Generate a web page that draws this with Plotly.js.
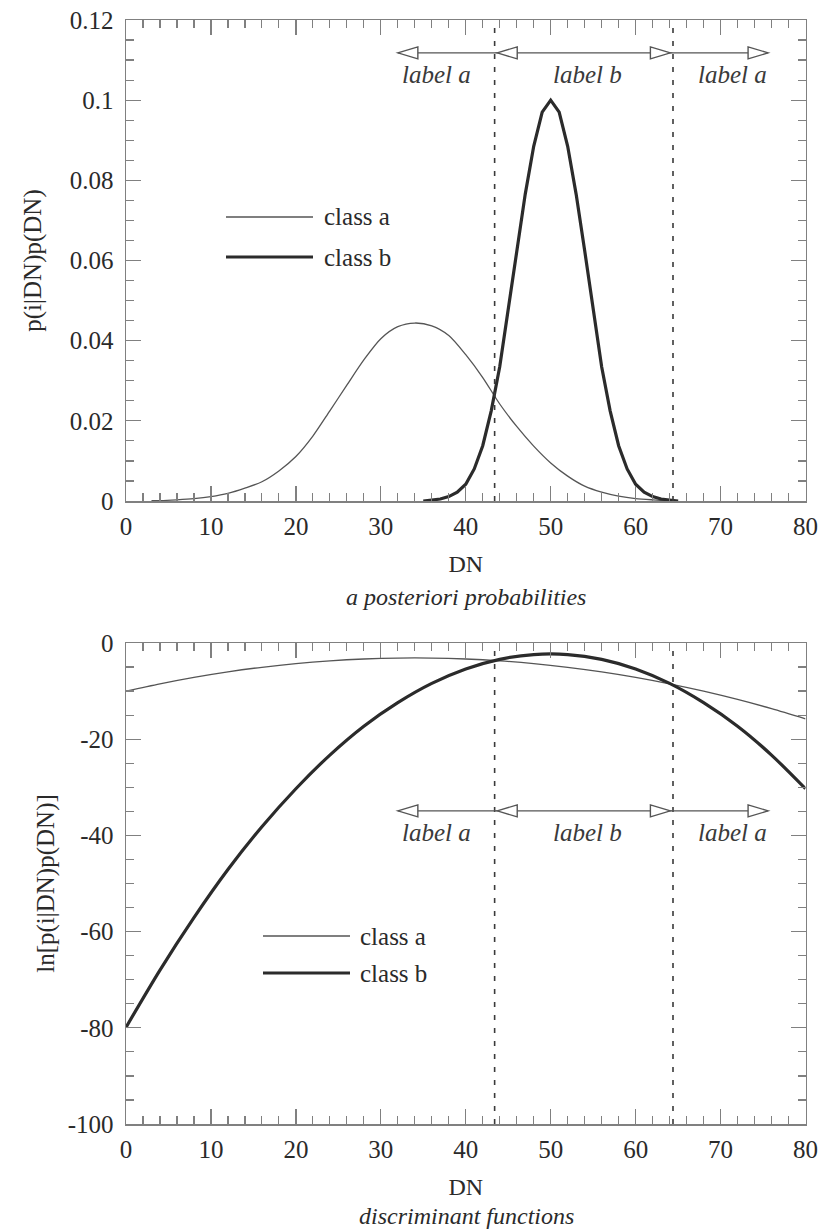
<!DOCTYPE html>
<html>
<head>
<meta charset="utf-8">
<script src="https://cdn.plot.ly/plotly-3.0.1.min.js"></script>
<style>
html,body{margin:0;padding:0;background:#ffffff;}
#chart{width:821px;height:1231px;}
</style>
</head>
<body>
<div id="chart"></div>
<script>
// ---------------- data ----------------
const seriesNames = ['class a', 'class b'];

// a posteriori probabilities p(i|DN)p(DN)
const dnPostA = [3, 4, 6, 8, 10, 12, 14, 16, 18, 20, 22, 24, 26, 28, 30, 32, 34, 36, 38, 40, 42, 44, 46, 48, 50, 52, 54, 56, 58, 60, 62, 64, 65];
const postA = [0.0001, 0.0001, 0.0003, 0.0006, 0.0011, 0.0019, 0.0032, 0.0048, 0.0075, 0.0111, 0.0162, 0.0225, 0.0289, 0.0352, 0.0405, 0.0435, 0.0444, 0.0437, 0.0413, 0.0365, 0.0308, 0.0242, 0.0186, 0.0137, 0.0095, 0.0062, 0.0037, 0.0022, 0.0012, 0.0006, 0.0003, 0.0001, 0.0000];

const dnPostB = [35, 36, 37, 38, 39, 40, 41, 42, 43, 44, 45, 46, 47, 48, 49, 50, 51, 52, 53, 54, 55, 56, 57, 58, 59, 60, 61, 62, 63, 64, 65];
const postB = [0.0000, 0.0002, 0.0005, 0.0011, 0.0022, 0.0042, 0.0080, 0.0138, 0.0225, 0.0335, 0.0478, 0.0625, 0.0765, 0.0885, 0.0970, 0.1000, 0.0970, 0.0885, 0.0765, 0.0625, 0.0478, 0.0335, 0.0225, 0.0138, 0.0080, 0.0042, 0.0022, 0.0011, 0.0005, 0.0002, 0.0000];

// discriminant functions ln[p(i|DN)p(DN)]
const dnDisc = [0, 4, 8, 12, 16, 20, 24, 28, 32, 36, 40, 44, 48, 52, 56, 60, 64, 68, 72, 76, 80];
const discA = [-10.0, -8.49, -7.15, -6.00, -5.05, -4.28, -3.71, -3.33, -3.13, -3.13, -3.33, -3.71, -4.28, -5.05, -6.00, -7.15, -8.49, -10.02, -11.74, -13.65, -15.75];
const discB = [-79.9, -68.0, -57.1, -47.1, -38.2, -30.3, -23.3, -17.3, -12.4, -8.4, -5.4, -3.4, -2.4, -2.4, -3.4, -5.4, -8.4, -12.4, -17.3, -23.3, -30.3];

// decision boundaries and region labels
const boundaries = [43.4, 64.4];
const regionLabels = ['label a', 'label b', 'label a'];

// tick labels
const xTickVals = [0, 10, 20, 30, 40, 50, 60, 70, 80];
const y2TickVals = [-100, -80, -60, -40, -20, 0];
const y2TickText = ['-100', '-80', '-60', '-40', '-20', '0'];

const titles = {
  y1: 'p(i|DN)p(DN)',
  y2: 'ln[p(i|DN)p(DN)]',
  x: 'DN',
  sub1: 'a posteriori probabilities',
  sub2: 'discriminant functions'
};

// ---------------- styling / placement ----------------
const W = 821, H = 1231;
const FONT = 'Liberation Serif, Times New Roman, serif';
const TXT = '#2a2a2a';
const AXC = '#808080';
const colA = '#555555', colB = '#2b2b2b';
const widA = 1.3, widB = 3.2;
const px = v => v / W;
const py = v => 1 - v / H;

const plotX = [126, 805.5];
const topPanel = [20, 501];
const botPanel = [643, 1124];

// arrow geometry (data units per panel)
const arrowCfg = [
  {xref: 'x', yref: 'y', y: 0.1118, hx: 2.36, hy: 0.0015, labelY: 0.1063},
  {xref: 'x2', yref: 'y2', y: -34.9, hx: 2.36, hy: 1.25, labelY: -39.5}
];
const arrowSpan = [32.0, 75.6];
const leftTips = [32.0, 43.7];
const rightTips = [64.1, 75.6];
const labelXs = [36.6, 54.3, 71.4];

// ---------------- traces ----------------
const traces = [
  {x: dnPostA, y: postA, name: seriesNames[0], type: 'scatter', mode: 'lines',
   line: {color: colA, width: widA, shape: 'spline', smoothing: 0.8}, xaxis: 'x', yaxis: 'y', showlegend: false},
  {x: dnPostB, y: postB, name: seriesNames[1], type: 'scatter', mode: 'lines',
   line: {color: colB, width: widB}, xaxis: 'x', yaxis: 'y', showlegend: false},
  {x: dnDisc, y: discA, name: seriesNames[0], type: 'scatter', mode: 'lines',
   line: {color: colA, width: widA, shape: 'spline', smoothing: 0.8}, xaxis: 'x2', yaxis: 'y2', showlegend: false},
  {x: dnDisc, y: discB, name: seriesNames[1], type: 'scatter', mode: 'lines',
   line: {color: colB, width: widB, shape: 'spline', smoothing: 0.8}, xaxis: 'x2', yaxis: 'y2', showlegend: false}
];

// ---------------- axes ----------------
function xAxis(anchor) {
  return {
    domain: [px(plotX[0]), px(plotX[1])], anchor: anchor,
    range: [0, 80], tickmode: 'array', tickvals: xTickVals,
    ticks: 'inside', ticklen: 15, tickwidth: 1.3, tickcolor: AXC,
    minor: {tickmode: 'linear', tick0: 0, dtick: 2, ticks: 'inside', ticklen: 8, tickwidth: 1.2, tickcolor: AXC},
    showline: true, linecolor: AXC, linewidth: 1.5, mirror: 'ticks',
    showgrid: false, zeroline: false,
    ticklabelstandoff: 2,
    tickfont: {family: FONT, size: 25, color: TXT},
    title: {text: titles.x, font: {family: FONT, size: 24, color: TXT}, standoff: 16},
    automargin: false
  };
}

const layout = {
  width: W, height: H,
  margin: {l: 0, r: 0, t: 0, b: 0},
  paper_bgcolor: '#ffffff', plot_bgcolor: '#ffffff',
  showlegend: false,
  font: {family: FONT, color: TXT},
  xaxis: xAxis('y'),
  xaxis2: xAxis('y2'),
  yaxis: {
    domain: [py(topPanel[1]), py(topPanel[0])], anchor: 'x',
    range: [0, 0.12], dtick: 0.02, tick0: 0,
    ticks: 'inside', ticklen: 15, tickwidth: 1.3, tickcolor: AXC,
    minor: {dtick: 0.005, ticks: 'inside', ticklen: 8, tickwidth: 1.2, tickcolor: AXC},
    showline: true, linecolor: AXC, linewidth: 1.5, mirror: 'ticks',
    showgrid: false, zeroline: false,
    ticklabelstandoff: 6,
    tickfont: {family: FONT, size: 25, color: TXT},
    title: {text: titles.y1, font: {family: FONT, size: 25, color: TXT}, standoff: 21},
    automargin: false
  },
  yaxis2: {
    domain: [py(botPanel[1]), py(botPanel[0])], anchor: 'x2',
    range: [-100, 0], tickmode: 'array', tickvals: y2TickVals, ticktext: y2TickText,
    ticks: 'inside', ticklen: 15, tickwidth: 1.3, tickcolor: AXC,
    minor: {tickmode: 'linear', tick0: 0, dtick: 5, ticks: 'inside', ticklen: 8, tickwidth: 1.2, tickcolor: AXC},
    showline: true, linecolor: AXC, linewidth: 1.5, mirror: 'ticks',
    showgrid: false, zeroline: false,
    ticklabelstandoff: 6,
    tickfont: {family: FONT, size: 25, color: TXT},
    title: {text: titles.y2, font: {family: FONT, size: 25, color: TXT}, standoff: 6},
    automargin: false
  },
  shapes: [],
  annotations: []
};

// decision boundaries (dashed verticals)
[['x', 'y'], ['x2', 'y2']].forEach(([xr, yr]) => {
  boundaries.forEach(b => {
    layout.shapes.push({type: 'line', xref: xr, yref: yr + ' domain', x0: b, x1: b, y0: 0, y1: 1,
      line: {color: '#3a3a3a', width: 1.6, dash: '5px,8px'}});
  });
});

// region arrows and labels
arrowCfg.forEach(c => {
  layout.shapes.push({type: 'line', xref: c.xref, yref: c.yref, x0: arrowSpan[0], x1: arrowSpan[1], y0: c.y, y1: c.y,
    line: {color: '#555', width: 1.4}});
  leftTips.forEach(t => {
    layout.shapes.push({type: 'path', xref: c.xref, yref: c.yref,
      path: `M ${t},${c.y} L ${t + c.hx},${c.y + c.hy} L ${t + c.hx},${c.y - c.hy} Z`,
      fillcolor: '#ffffff', line: {color: '#555', width: 1.4}});
  });
  rightTips.forEach(t => {
    layout.shapes.push({type: 'path', xref: c.xref, yref: c.yref,
      path: `M ${t},${c.y} L ${t - c.hx},${c.y + c.hy} L ${t - c.hx},${c.y - c.hy} Z`,
      fillcolor: '#ffffff', line: {color: '#555', width: 1.4}});
  });
  regionLabels.forEach((lab, i) => {
    layout.annotations.push({xref: c.xref, yref: c.yref, x: labelXs[i], y: c.labelY,
      text: '<i>' + lab + '</i>', showarrow: false, xanchor: 'center', yanchor: 'middle',
      font: {family: FONT, size: 25, color: '#3a3a3a'}});
  });
});

// hand-placed legends (long line samples as in the original)
const legendPos = [
  {x0: 226, x1: 313, ys: [217, 257], tx: 322},
  {x0: 263, x1: 350, ys: [936, 973], tx: 358}
];
legendPos.forEach(lp => {
  seriesNames.forEach((nm, i) => {
    layout.shapes.push({type: 'line', xref: 'paper', yref: 'paper',
      x0: px(lp.x0), x1: px(lp.x1), y0: py(lp.ys[i]), y1: py(lp.ys[i]),
      line: {color: i === 0 ? colA : colB, width: i === 0 ? widA : widB}});
    layout.annotations.push({xref: 'paper', yref: 'paper', x: px(lp.tx), y: py(lp.ys[i]),
      text: nm, showarrow: false, xanchor: 'left', yanchor: 'middle',
      font: {family: FONT, size: 25, color: TXT}});
  });
});

// panel captions
layout.annotations.push({xref: 'paper', yref: 'paper', x: px(466), y: py(597), text: '<i>' + titles.sub1 + '</i>',
  showarrow: false, xanchor: 'center', yanchor: 'middle', font: {family: FONT, size: 24, color: TXT}});
layout.annotations.push({xref: 'paper', yref: 'paper', x: px(466), y: py(1216), text: '<i>' + titles.sub2 + '</i>',
  showarrow: false, xanchor: 'center', yanchor: 'middle', font: {family: FONT, size: 24, color: TXT}});

Plotly.newPlot('chart', traces, layout, {staticPlot: true, displayModeBar: false});
</script>
</body>
</html>
